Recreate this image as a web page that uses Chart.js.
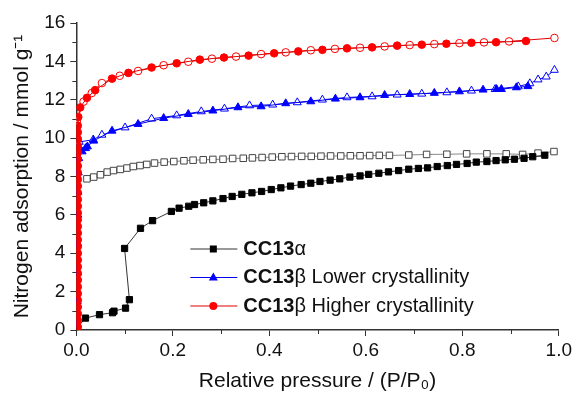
<!DOCTYPE html>
<html>
<head>
<meta charset="utf-8">
<script src="https://cdn.jsdelivr.net/npm/chart.js@4.4.0/dist/chart.umd.min.js"></script>
<style>
  html, body { margin: 0; padding: 0; background: #fff; }
  #wrap { width: 575px; height: 394px; }
</style>
</head>
<body>
<div id="wrap"><canvas id="isoChart" width="575" height="394"></canvas></div>
<script>
// --- datos (isotermas N2) ---
// CC13α adsorción (cuadrados llenos) en orden de medida
const blackAdsX = [0.001,0.019,0.048,0.075,0.078,0.102,0.110,0.100,0.133,0.158,0.197,0.213,0.233,0.245,0.264,0.283,0.304,0.323,0.343,0.364,0.384,0.404,0.424,0.444,0.466,0.486,0.505,0.526,0.546,0.567,0.588,0.606,0.627,0.647,0.668,0.689,0.709,0.728,0.748,0.769,0.788,0.810,0.829,0.851,0.870,0.889,0.908,0.928,0.946,0.971];
const blackAdsY = [0.1,0.62,0.8,0.9,0.98,1.14,1.58,4.25,5.3,5.7,6.18,6.35,6.45,6.54,6.63,6.73,6.85,6.96,7.07,7.15,7.22,7.32,7.41,7.5,7.58,7.65,7.74,7.81,7.88,7.97,8.03,8.11,8.17,8.24,8.31,8.38,8.42,8.45,8.52,8.57,8.63,8.68,8.75,8.78,8.83,8.87,8.9,8.95,9.03,9.11];
// CC13α desorción (cuadrados vacíos)
const blackDesX = [0.022,0.036,0.050,0.064,0.077,0.091,0.105,0.118,0.132,0.146,0.162,0.182,0.202,0.223,0.242,0.263,0.283,0.304,0.324,0.346,0.365,0.385,0.406,0.426,0.446,0.467,0.487,0.507,0.527,0.548,0.568,0.588,0.608,0.628,0.649,0.689,0.726,0.768,0.809,0.851,0.891,0.925,0.957,0.990];
const blackDesY = [7.88,7.97,8.09,8.23,8.31,8.37,8.44,8.52,8.57,8.63,8.7,8.75,8.78,8.82,8.85,8.87,8.89,8.9,8.94,8.95,8.97,8.99,9.01,9.03,9.04,9.05,9.05,9.06,9.07,9.07,9.08,9.08,9.09,9.1,9.1,9.12,9.15,9.16,9.18,9.18,9.18,9.15,9.22,9.3];

// CC13β baja cristalinidad (triángulos azules)
const blueAdsX = [0.002,0.002,0.0025,0.003,0.003,0.0035,0.004,0.005,0.012,0.019,0.023,0.036,0.074,0.128,0.181,0.232,0.283,0.335,0.383,0.434,0.486,0.537,0.588,0.639,0.691,0.742,0.794,0.843,0.871,0.881,0.912,0.936];
const blueAdsY = [0.3,1.5,3.0,4.5,6.0,7.2,8.2,8.95,9.3,9.47,9.56,9.86,10.38,10.73,11.04,11.25,11.43,11.6,11.65,11.81,11.91,12.05,12.12,12.24,12.29,12.35,12.43,12.52,12.55,12.55,12.64,12.7];
const blueDesX = [0.006,0.035,0.053,0.101,0.156,0.208,0.259,0.307,0.359,0.407,0.458,0.510,0.561,0.613,0.665,0.716,0.768,0.819,0.868,0.916,0.940,0.957,0.974,0.991];
const blueDesY = [9.8,9.92,10.17,10.55,11.01,11.18,11.39,11.53,11.7,11.74,11.86,12.0,12.12,12.17,12.26,12.31,12.38,12.47,12.55,12.69,12.85,13.05,13.2,13.55];

// CC13β alta cristalinidad (círculos rojos); a presión muy baja los puntos forman una franja casi vertical
const redAdsX = [0.003,0.003,0.003,0.003,0.003,0.003,0.003,0.003,0.003,0.003,0.003,0.003,0.003,0.003,0.003,0.003,0.003,0.003,0.003,0.003,0.003,0.003,0.003,0.003,0.003,0.003,0.003,0.003,0.003,0.003,0.003,0.004,0.008,0.022,0.039,0.074,0.108,0.156,0.208,0.256,0.306,0.357,0.410,0.460,0.510,0.561,0.613,0.665,0.716,0.767,0.819,0.870,0.932];
const redAdsY = [0.15,0.5,0.85,1.2,1.55,1.9,2.25,2.6,2.95,3.3,3.65,4.0,4.35,4.7,5.05,5.4,5.75,6.1,6.45,6.8,7.15,7.5,7.85,8.2,8.55,8.9,9.25,9.6,9.95,10.3,10.65,11.1,11.6,12.1,12.5,13.1,13.4,13.68,13.9,14.09,14.2,14.3,14.42,14.52,14.6,14.68,14.73,14.82,14.87,14.92,14.97,15.0,15.06];
const redDesX = [0.001,0.015,0.032,0.053,0.090,0.128,0.181,0.232,0.281,0.331,0.383,0.434,0.486,0.536,0.588,0.639,0.691,0.742,0.794,0.845,0.897,0.991];
const redDesY = [10.9,11.9,12.35,12.87,13.25,13.5,13.8,13.98,14.14,14.25,14.38,14.47,14.58,14.65,14.71,14.78,14.85,14.9,14.95,14.99,15.04,15.22];

// ticks menores
const xMinorTicks = [0.1, 0.3, 0.5, 0.7, 0.9];
const yMinorTicks = [1, 3, 5, 7, 9, 11, 13, 15];

const legendItems = [
  { bold: "CC13", greek: "\u03b1", rest: "", color: "#000", line: "#333", style: "rect" },
  { bold: "CC13", greek: "\u03b2", rest: " Lower crystallinity", color: "#0000ff", line: "#0000ee", style: "triangle" },
  { bold: "CC13", greek: "\u03b2", rest: " Higher crystallinity", color: "#ff0000", line: "#e00000", style: "circle" }
];

const FONT = '"Liberation Sans", Arial, sans-serif';

function pts(xs, ys) {
  return xs.map((x, i) => ({ x: x, y: ys[i] }));
}

// marcador simple para la leyenda
function drawMarker(ctx, style, cx, cy, color) {
  ctx.fillStyle = color;
  ctx.beginPath();
  if (style === "rect") {
    ctx.rect(cx - 3.5, cy - 3.5, 7, 7);
  } else if (style === "triangle") {
    ctx.moveTo(cx, cy - 5);
    ctx.lineTo(cx + 4.5, cy + 3);
    ctx.lineTo(cx - 4.5, cy + 3);
    ctx.closePath();
  } else {
    ctx.arc(cx, cy, 4, 0, Math.PI * 2);
  }
  ctx.fill();
}

const legendPlugin = {
  id: "isoLegend",
  afterDraw(chart) {
    const ctx = chart.ctx;
    const area = chart.chartArea;
    const x0 = area.left + 114;
    let y = area.top + 226;
    ctx.save();
    ctx.textBaseline = "middle";
    legendItems.forEach((it) => {
      ctx.strokeStyle = it.line;
      ctx.lineWidth = 1;
      ctx.beginPath();
      ctx.moveTo(x0, y);
      ctx.lineTo(x0 + 47, y);
      ctx.stroke();
      drawMarker(ctx, it.style, x0 + 23, y, it.color);
      let tx = x0 + 53;
      ctx.fillStyle = "#111";
      ctx.font = "bold 20px " + FONT;
      ctx.fillText(it.bold, tx, y);
      tx += ctx.measureText(it.bold).width;
      ctx.font = "20px " + FONT;
      ctx.fillText(it.greek + it.rest, tx, y);
      y += 28.5;
    });
    ctx.restore();
  }
};

const minorTickPlugin = {
  id: "minorTicks",
  afterDraw(chart) {
    const ctx = chart.ctx;
    const sx = chart.scales.x;
    const sy = chart.scales.y;
    const area = chart.chartArea;
    ctx.save();
    ctx.strokeStyle = "#333";
    ctx.lineWidth = 1;
    ctx.beginPath();
    xMinorTicks.forEach((v) => {
      const px = Math.round(sx.getPixelForValue(v)) + 0.5;
      ctx.moveTo(px, area.bottom);
      ctx.lineTo(px, area.bottom + 4);
    });
    yMinorTicks.forEach((v) => {
      const py = Math.round(sy.getPixelForValue(v)) + 0.5;
      ctx.moveTo(area.left, py);
      ctx.lineTo(area.left - 4, py);
    });
    ctx.stroke();
    ctx.restore();
  }
};

const ctx = document.getElementById("isoChart").getContext("2d");
new Chart(ctx, {
  type: "scatter",
  data: {
    datasets: [
      {
        label: "CC13β Higher ads",
        data: pts(redAdsX, redAdsY),
        showLine: true,
        borderColor: "#e00000",
        borderWidth: 1,
        pointStyle: "circle",
        pointRadius: 3.8,
        pointBackgroundColor: "#ff0000",
        pointBorderColor: "#ff0000",
        pointBorderWidth: 1
      },
      {
        label: "CC13β Higher des",
        data: pts(redDesX, redDesY),
        showLine: true,
        borderColor: "#e00000",
        borderWidth: 1,
        pointStyle: "circle",
        pointRadius: 3.8,
        pointBackgroundColor: "#ffffff",
        pointBorderColor: "#ff0000",
        pointBorderWidth: 1
      },
      {
        label: "CC13β Lower ads",
        data: pts(blueAdsX, blueAdsY),
        showLine: true,
        borderColor: "#0000ee",
        borderWidth: 1,
        pointStyle: "triangle",
        pointRadius: 4.6,
        pointBackgroundColor: "#0000ff",
        pointBorderColor: "#0000ff",
        pointBorderWidth: 1
      },
      {
        label: "CC13β Lower des",
        data: pts(blueDesX, blueDesY),
        showLine: true,
        borderColor: "#0000ee",
        borderWidth: 1,
        pointStyle: "triangle",
        pointRadius: 4.6,
        pointBackgroundColor: "#ffffff",
        pointBorderColor: "#0000ff",
        pointBorderWidth: 1
      },
      {
        label: "CC13α ads",
        data: pts(blackAdsX, blackAdsY),
        showLine: true,
        borderColor: "#333333",
        borderWidth: 1,
        pointStyle: "rect",
        pointRadius: 4.4,
        pointBackgroundColor: "#000000",
        pointBorderColor: "#000000",
        pointBorderWidth: 1
      },
      {
        label: "CC13α des",
        data: pts(blackDesX, blackDesY),
        showLine: true,
        borderColor: "#888888",
        borderWidth: 1,
        pointStyle: "rect",
        pointRadius: 4.6,
        pointBackgroundColor: "#ffffff",
        pointBorderColor: "#444444",
        pointBorderWidth: 1
      }
    ]
  },
  options: {
    responsive: false,
    animation: false,
    layout: { padding: { left: 10, right: 9, top: 23, bottom: 0 } },
    plugins: {
      legend: { display: false },
      tooltip: { enabled: false }
    },
    scales: {
      x: {
        type: "linear",
        min: 0,
        max: 1,
        ticks: {
          stepSize: 0.2,
          color: "#111",
          font: { family: FONT, size: 19 },
          padding: 3,
          callback: (v) => v.toFixed(1)
        },
        grid: { drawOnChartArea: false, tickLength: 6, color: "#333" },
        border: { color: "#333", width: 1.5 },
        title: {
          display: true,
          text: "Relative pressure / (P/P\u2080)",
          color: "#111",
          font: { family: FONT, size: 21 },
          padding: { top: 4, bottom: 0 }
        }
      },
      y: {
        min: 0,
        max: 16,
        ticks: {
          stepSize: 2,
          color: "#111",
          font: { family: FONT, size: 19 },
          padding: 5
        },
        grid: { drawOnChartArea: false, tickLength: 6, color: "#333" },
        border: { color: "#333", width: 1.5 },
        title: {
          display: true,
          text: "Nitrogen adsorption / mmol g\u207b\u00b9",
          color: "#111",
          font: { family: FONT, size: 21 },
          padding: { top: 0, bottom: 4 }
        }
      }
    }
  },
  plugins: [minorTickPlugin, legendPlugin]
});
</script>
</body>
</html>
